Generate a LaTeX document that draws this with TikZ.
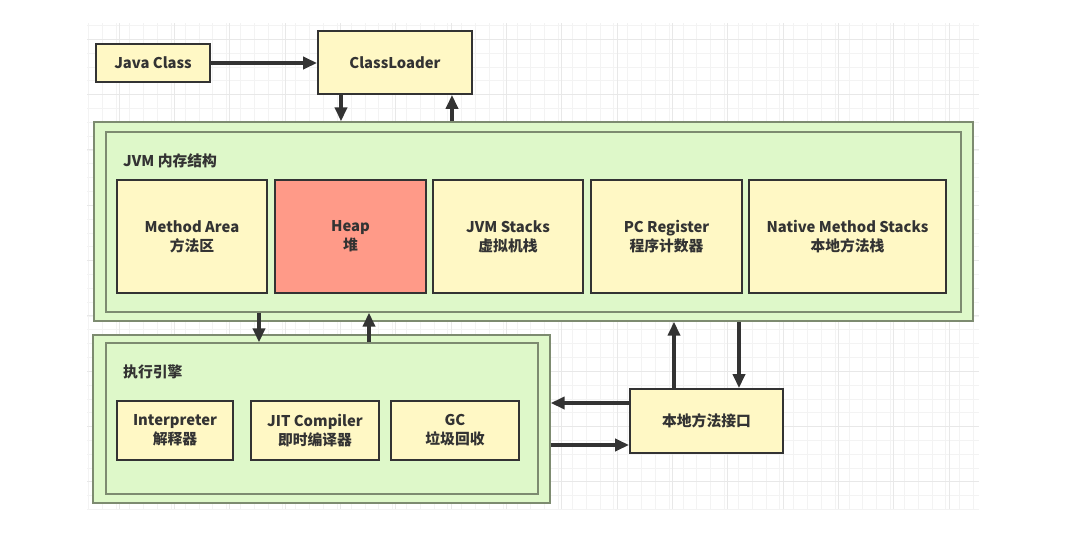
\documentclass[tikz,border=0pt]{standalone}
\usepackage{fontspec}
\setmainfont{Noto Sans CJK SC}
\usetikzlibrary{arrows.meta}
\definecolor{boxyellow}{HTML}{FFF8C5}
\definecolor{heapred}{HTML}{FF9A88}
\definecolor{areagreen}{HTML}{DEF8C9}
\definecolor{areaborder}{HTML}{7D8B70}
\definecolor{darkline}{HTML}{333333}
\definecolor{gridminor}{HTML}{F3F3F3}
\definecolor{gridmajor}{HTML}{E8E8E8}
\begin{document}
\begin{tikzpicture}[x=1pt,y=-1pt,
  txt/.style={text=darkline,font=\fontsize{14.8}{19}\selectfont\bfseries,align=center},
  ybox/.style={txt,draw=darkline,line width=1.8pt,fill=boxyellow,inner sep=0pt},
  area/.style={draw=areaborder,line width=1.3pt,fill=areagreen,inner sep=0pt},
  arr/.style={draw=darkline,line width=3.5pt,-{Triangle[length=14pt,width=12pt]}},
  lbl/.style={txt,anchor=west,inner sep=0pt}]
\useasboundingbox (0,0) rectangle (1069,541);
\fill[white] (0,0) rectangle (1069,541);
% grid
\foreach \i in {0,...,64} {
  \pgfmathsetmacro{\gx}{88.3+13.83*\i}
  \draw[gridminor,line width=0.8pt] (\gx,23) -- (\gx,509);
}
\foreach \j in {0,...,35} {
  \pgfmathsetmacro{\gy}{25.5+13.83*\j}
  \draw[gridminor,line width=0.8pt] (87,\gy) -- (979,\gy);
}
\foreach \i in {0,...,16} {
  \pgfmathsetmacro{\gx}{63.9+55.32*\i}
  \ifdim\gx pt>86pt \draw[gridmajor,line width=0.9pt] (\gx,23) -- (\gx,509); \fi
}
\foreach \j in {0,...,8} {
  \pgfmathsetmacro{\gy}{39.3+55.32*\j}
  \draw[gridmajor,line width=0.9pt] (87,\gy) -- (979,\gy);
}
% areas
\node[area,minimum width=879pt,minimum height=199pt] (jvmo) at (533.5,221.5) {};
\node[area,minimum width=855pt,minimum height=180pt] (jvmi) at (533.5,222) {};
\node[area,minimum width=457pt,minimum height=168pt] (exeo) at (321.5,419) {};
\node[area,minimum width=432pt,minimum height=151pt] (exei) at (322,418.5) {};
\node[lbl] (jvmlbl) at (123,161) {JVM 内存结构};
\node[lbl] (exelbl) at (123,372) {执行引擎};
% boxes
\node[ybox,minimum width=114pt,minimum height=38pt] (jc) at (153,63) {Java Class};
\node[ybox,minimum width=154pt,minimum height=63pt] (cl) at (395,62.5) {ClassLoader};
\node[ybox,minimum width=150pt,minimum height=113pt] (ma) at (192,236.5) {Method Area\\方法区};
\node[ybox,fill=heapred,minimum width=151pt,minimum height=113pt] (heap) at (350.5,236.5) {Heap\\堆};
\node[ybox,minimum width=150pt,minimum height=113pt] (js) at (508,236.5) {JVM Stacks\\虚拟机栈};
\node[ybox,minimum width=151pt,minimum height=113pt] (pc) at (666.5,236.5) {PC Register\\程序计数器};
\node[ybox,minimum width=197pt,minimum height=113pt] (nms) at (847.5,236.5) {Native Method Stacks\\本地方法栈};
\node[ybox,minimum width=116pt,minimum height=59pt] (interp) at (175,430.5) {Interpreter\\解释器};
\node[ybox,minimum width=128pt,minimum height=59pt] (jit) at (315,430.5) {JIT Compiler\\即时编译器};
\node[ybox,minimum width=128pt,minimum height=59pt] (gc) at (455,430.5) {GC\\垃圾回收};
\node[ybox,minimum width=153pt,minimum height=64pt] (ni) at (706.5,421) {本地方法接口};
% arrow positions
\coordinate (xa) at (341,0);
\coordinate (xb) at (452,0);
\coordinate (xc) at (259,0);
\coordinate (xd) at (369,0);
\coordinate (xe) at (674,0);
\coordinate (xf) at (739,0);
\coordinate (ya) at (0,403);
\coordinate (yb) at (0,445);
% arrows
\draw[arr] (jc.east) -- (cl.west |- jc.east);
\draw[arr] (cl.south -| xa) -- (jvmo.north -| xa);
\draw[arr] (jvmo.north -| xb) -- (cl.south -| xb);
\draw[arr] (jvmi.south -| xc) -- (exei.north -| xc);
\draw[arr] (exei.north -| xd) -- (jvmi.south -| xd);
\draw[arr] (ni.north -| xe) -- (jvmo.south -| xe);
\draw[arr] (jvmo.south -| xf) -- (ni.north -| xf);
\draw[arr] (ni.west |- ya) -- (exeo.east |- ya);
\draw[arr] (exeo.east |- yb) -- (ni.west |- yb);
\end{tikzpicture}
\end{document}
